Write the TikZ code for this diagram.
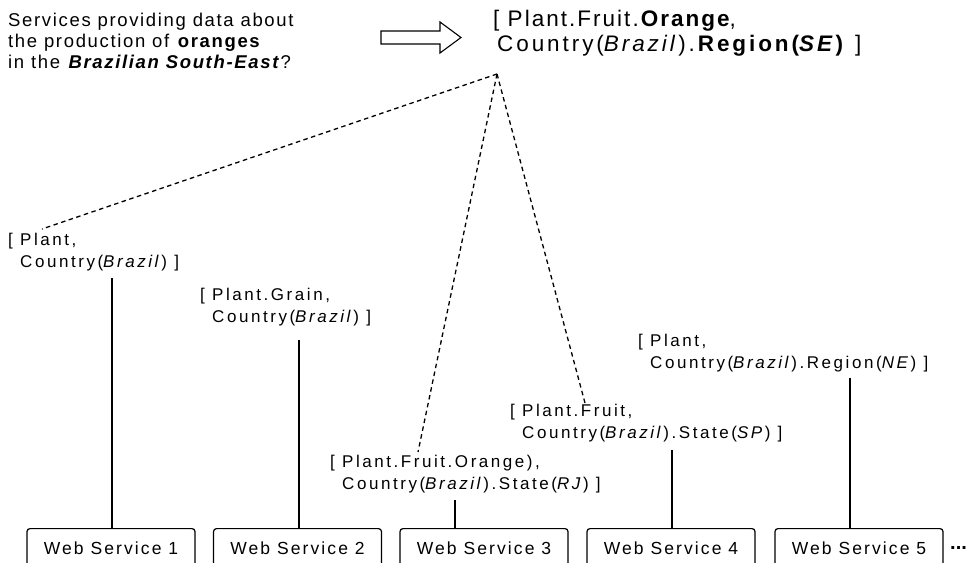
\documentclass[tikz,border=0pt]{standalone}
\usepackage{fontspec}
\setmainfont{Liberation Sans}
\newfontfamily\qfont[LetterSpace=9]{Liberation Sans}
\newfontfamily\tfont[LetterSpace=9]{Liberation Sans}
\newfontfamily\tfontwide[LetterSpace=13]{Liberation Sans}
\newfontfamily\lfont[LetterSpace=15]{Liberation Sans}
\newfontfamily\bfont[LetterSpace=12]{Liberation Sans}
\usetikzlibrary{calc}
\tikzset{
  lbl/.style={anchor=west, inner sep=0pt, align=left,
    font={\lfont\fontsize{17}{22}\selectfont}},
  qtext/.style={anchor=west, inner sep=0pt, align=left,
    font={\qfont\fontsize{18.5}{21}\selectfont}},
  ttext/.style={anchor=west, inner sep=0pt, align=left,
    font={\tfont\fontsize{22.5}{25}\selectfont}},
  wsbox/.style={draw, line width=1.2pt, rounded corners=3pt, anchor=north,
    minimum width=168pt, minimum height=40pt, inner sep=0pt,
    font={\bfont\fontsize{17.5}{20}\selectfont}},
  solidline/.style={line width=1.8pt},
  dashline/.style={line width=1.3pt, dash pattern=on 4.5pt off 3.5pt},
  hollowarrow/.style={draw, line width=1.1pt}
}
\begin{document}
\begin{tikzpicture}[x=1pt, y=-1pt]
\useasboundingbox (0,0) rectangle (971,562);

% question
\node[qtext] (q) at (8,41) {Services providing data about\\
the production of \textbf{oranges}\\
in the \textbf{\textit{Brazilian South-East}}?};

% hollow arrow
\draw[hollowarrow] (381,31) -- (440,31) -- (440,22) -- (461,37.5) -- (440,53) -- (440,44) -- (381,44) -- cycle;

% translated query
\node[ttext] (t) at (493,33) {[ Plant.Fruit.\textbf{Orange},\\
{\tfontwide\hspace{4pt}Country(\textit{Brazil}).\textbf{Region(\textit{SE})} ]}};

% labels
\node[lbl] (l1) at (8,252) {[ Plant,\\ \phantom{[ }Country(\textit{Brazil}) ]};
\node[lbl] (l2) at (200,307.5) {[ Plant.Grain,\\ \phantom{[ }Country(\textit{Brazil}) ]};
\node[lbl] (l3) at (330,474.5) {[ Plant.Fruit.Orange),\\ \phantom{[ }Country(\textit{Brazil}).State(\textit{RJ}) ]};
\node[lbl] (l4) at (510,423.5) {[ Plant.Fruit,\\ \phantom{[ }Country(\textit{Brazil}).State(\textit{SP}) ]};
\node[lbl] (l5) at (638,353) {[ Plant,\\ \phantom{[ }Country(\textit{Brazil}).Region(\textit{NE}) ]};

% web service boxes
\node[wsbox] (ws1) at (111,528) {Web Service 1};
\node[wsbox] (ws2) at (297.5,528) {Web Service 2};
\node[wsbox] (ws3) at (484,528) {Web Service 3};
\node[wsbox] (ws4) at (671,528) {Web Service 4};
\node[wsbox] (ws5) at (859,528) {Web Service 5};
\node[anchor=west, inner sep=0pt, font={\fontsize{20}{20}\selectfont\bfseries}] (dots) at (950,548) {...};

% tops of the vertical connectors
\coordinate (v1) at (112,278);
\coordinate (v2) at (299,340);
\coordinate (v3) at (455,500);
\coordinate (v4) at (672,450);
\coordinate (v5) at (850,378);
\draw[solidline] (ws1.north -| v1) -- (v1);
\draw[solidline] (ws2.north -| v2) -- (v2);
\draw[solidline] (ws3.north -| v3) -- (v3);
\draw[solidline] (ws4.north -| v4) -- (v4);
\draw[solidline] (ws5.north -| v5) -- (v5);

% dashed connectors
\coordinate (apex) at (497,74);
\coordinate (d1) at (42,229);
\coordinate (d3) at (418,452);
\coordinate (d4) at (585,403);
\draw[dashline] (apex) -- (d1);
\draw[dashline] (apex) -- (d3);
\draw[dashline] (apex) -- (d4);
\end{tikzpicture}
\end{document}
